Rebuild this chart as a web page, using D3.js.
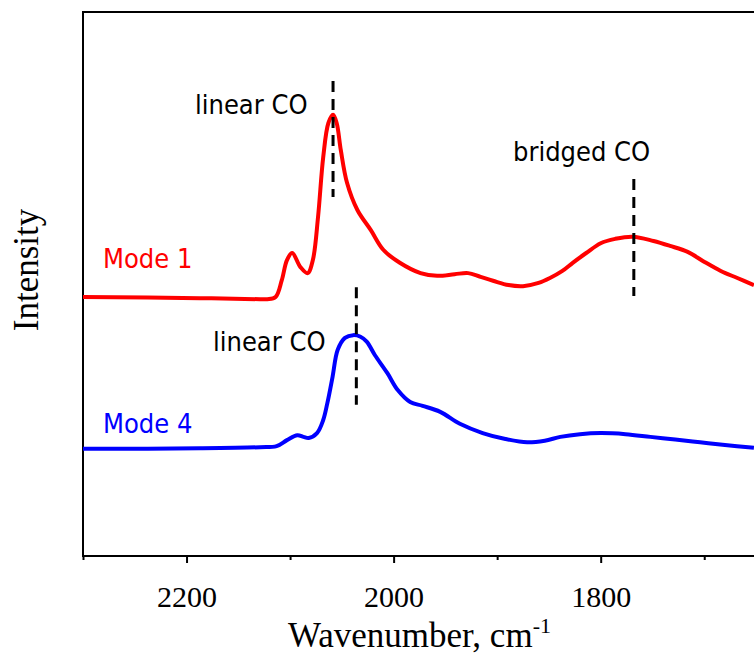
<!DOCTYPE html>
<html>
<head>
<meta charset="utf-8">
<script src="https://cdn.jsdelivr.net/npm/d3@7"></script>
<style>
  html,body{margin:0;padding:0;background:#fff;}
  .ann{font-family:"DejaVu Sans Condensed","DejaVu Sans",sans-serif;font-size:27px;}
  .serif{font-family:"Liberation Serif","Times New Roman",serif;}
</style>
</head>
<body>
<svg id="chart" width="754" height="660"></svg>
<script>
// Mode 1 spectrum (red)
var redWn=[2300,2187,2129,2122,2114,2108,2103,2098,2090,2083,2078,2073,2068,2063,2058.5,2055,2051,2045,2035,2022,2010,1994,1974,1958,1941,1928,1916,1904,1889,1875,1860,1849,1837,1827,1814,1800,1786,1769,1749,1733,1716,1701,1684,1668,1652];
var redInt=[47.6,47.4,47.2,47.2,47.6,50.7,54.4,55.7,53.1,52.0,54.4,62.3,73.3,79.6,81.1,79.6,74.6,68.6,63.6,59.9,56.3,53.9,52.0,51.5,51.8,52.0,51.3,50.6,49.8,49.6,50.2,51.1,52.4,53.9,55.7,57.5,58.3,58.7,57.9,57.0,55.9,54.2,52.4,51.1,49.8];
// Mode 4 spectrum (blue)
var blueWn=[2300,2187,2129,2113,2103,2093,2087,2082,2074,2068,2064,2059,2054,2047,2039,2032,2026,2018,2006,1996,1984,1972,1955,1936,1914,1892,1871,1854,1839,1820,1800,1776,1752,1728,1704,1680,1652];
var blueInt=[19.7,19.8,20.0,20.2,21.3,22.2,21.9,21.7,22.6,25.0,28.1,32.9,37.9,40.1,40.6,40.3,39.4,36.9,33.6,30.5,28.3,27.6,26.5,24.3,22.6,21.5,20.9,21.2,21.9,22.4,22.6,22.4,21.9,21.4,20.9,20.4,19.9];
// tick values
var majorTicks=[2200,2000,1800];
var minorTicks=[2300,2100,1900,1700];
// dashed peak markers
var markWn=[2058.5,2036,1768];
var markTop=[87.3,49.4,69.3];
var markBottom=[66.0,27.8,47.8];

var svg=d3.select("#chart");
var plotL=83,plotR=756,plotT=12,plotB=556;

var x=d3.scaleLinear().domain([2300,1650]).range([plotL,plotR]);
var y=d3.scaleLinear().domain([0,100]).range([plotB,plotT]);

// frame
svg.append("rect")
    .attr("x",plotL).attr("y",plotT)
    .attr("width",plotR-plotL).attr("height",plotB-plotT)
    .attr("fill","none").attr("stroke","#000").attr("stroke-width",2);

//bottom axis, major + minor
var gMaj=svg.append("g").attr("transform","translate(0,"+plotB+")")
    .call(d3.axisBottom(x).tickValues(majorTicks).tickSize(7).tickPadding(23).tickFormat(d3.format("d")));
var gMin=svg.append("g").attr("transform","translate(0,"+plotB+")")
    .call(d3.axisBottom(x).tickValues(minorTicks).tickSize(4).tickFormat(""));
[gMaj,gMin].forEach(function(g){
    g.select(".domain").remove();
    g.selectAll(".tick line").attr("stroke","#000").attr("stroke-width",2);
});
gMaj.selectAll(".tick text")
    .attr("class","serif")
    .style("font-size","30px")
    .attr("fill","#000");

function drawLine(wn,vals,color){
    var pts=wn.map(function(d,i){return [d,vals[i]];});
    var line=d3.line()
        .x(function(d){return x(d[0]);})
        .y(function(d){return y(d[1]);})
        .curve(d3.curveCatmullRom.alpha(0.5));
    svg.append("path").datum(pts)
        .attr("d",line)
        .attr("fill","none")
        .attr("stroke",color)
        .attr("stroke-width",4)
        .attr("stroke-linejoin","round");
}
drawLine(redWn,redInt,"#ff0000");
drawLine(blueWn,blueInt,"#0000ff");

// dashed markers
for(var i=0;i<markWn.length;i++){
    svg.append("line")
        .attr("x1",x(markWn[i])).attr("x2",x(markWn[i]))
        .attr("y1",y(markTop[i])).attr("y2",y(markBottom[i]))
        .attr("stroke","#000").attr("stroke-width",3)
        .attr("stroke-dasharray","11,7");
}

// annotations
function label(txt,px,py,color){
    svg.append("text").attr("class","ann")
        .attr("x",px).attr("y",py)
        .attr("fill",color).text(txt);
}
label("linear CO",195,114,"#000");
label("bridged CO",513,161,"#000");
label("linear CO",213,351,"#000");
label("Mode 1",103,268,"#ff0000");
label("Mode 4",103,433,"#0000ff");

// axis titles
var xt=svg.append("text").attr("class","serif")
    .attr("x",(plotL+plotR)/2).attr("y",647)
    .attr("text-anchor","middle")
    .style("font-size","35px");
xt.append("tspan").text("Wavenumber, cm");
xt.append("tspan").attr("dy",-14).style("font-size","22px").text("-1");

svg.append("text").attr("class","serif")
    .attr("transform","translate(38,270) rotate(-90)")
    .attr("text-anchor","middle")
    .style("font-size","35px")
    .text("Intensity");
</script>
</body>
</html>
